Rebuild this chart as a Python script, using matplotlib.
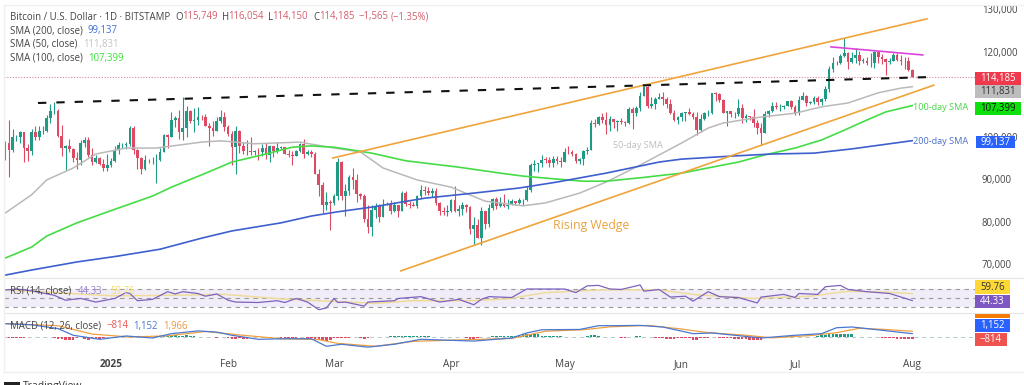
import numpy as np
import matplotlib
matplotlib.use('Agg')
import matplotlib.pyplot as plt
from matplotlib.patches import Rectangle

plt.rcParams['font.family'] = ['Open Sans', 'DejaVu Sans']

W, H = 1024, 385

# daily candles, 4 Dec 2024 to 1 Aug 2025, thousands of USD
closes = [
    98.7, 97.0, 99.9, 99.9, 101.1, 97.4, 96.6, 101.1, 100.0, 101.4, 101.4, 104.5, 106.1, 106.1, 100.2, 97.5, 97.8, 97.2, 95.1, 94.7, 98.7, 99.4, 95.8, 94.2, 95.1, 93.7, 92.8, 93.4,
    94.4, 96.9, 98.1, 98.2, 98.3, 102.1, 96.9, 95.0, 92.5, 94.7, 94.5, 94.5, 94.5, 96.5, 100.5, 99.9, 104.1, 104.4, 101.2, 102.0, 106.1, 103.7, 103.9, 104.8, 104.7, 102.6, 102.0, 101.3, 103.7, 104.7, 102.4,
    100.6, 97.7, 101.4, 97.8, 96.6, 96.6, 96.5, 96.5, 96.4, 97.4, 95.7, 97.8, 96.6, 97.5, 97.6, 96.1, 95.8, 95.6, 96.6, 98.3, 96.1, 96.5, 96.1, 91.4, 88.7, 84.0, 84.7, 84.4,
    86.0, 94.2, 86.1, 87.2, 90.6, 89.9, 86.7, 86.2, 80.6, 78.8, 82.9, 83.7, 81.1, 83.9, 84.3, 82.6, 84.0, 82.7, 86.8, 84.2, 84.0, 83.8, 86.1, 87.5, 87.4, 86.9, 87.2, 84.4, 82.6, 82.4, 82.5,
    85.2, 82.5, 83.1, 83.9, 83.5, 78.4, 79.2, 76.3, 82.6, 79.6, 83.4, 85.3, 83.7, 84.5, 83.7, 84.0, 84.9, 84.5, 85.1, 85.1, 87.5, 93.4, 93.7, 93.9, 94.7, 94.6, 93.8, 94.9, 94.3, 94.2,
    96.5, 96.4, 95.9, 94.3, 94.8, 96.8, 97.0, 103.3, 103.0, 104.8, 104.1, 102.8, 104.2, 103.5, 103.7, 103.5, 103.2, 106.5, 105.6, 106.8, 109.7, 111.7, 107.3, 107.8, 109.0, 109.4, 109.0, 107.8, 105.6, 103.9, 104.6,
    105.6, 105.8, 105.4, 104.7, 101.6, 104.3, 105.6, 105.7, 110.3, 110.2, 108.7, 105.7, 106.0, 105.4, 105.5, 106.8, 104.5, 104.9, 104.6, 103.3, 102.1, 100.9, 105.3, 106.0, 107.3, 107.0, 107.1, 107.3, 108.4, 107.1,
    105.7, 108.8, 109.6, 108.0, 108.2, 109.2, 108.2, 108.9, 111.3, 116.0, 117.5, 117.4, 119.1, 119.8, 117.7, 118.7, 119.3, 117.9, 117.9, 117.3, 117.4, 120.0, 118.8, 118.3, 117.6, 117.9, 119.4, 118.0, 117.9, 117.8, 115.749,
    114.185,
]
highs = [
    99.0, 104.0, 101.9, 100.5, 101.4, 101.2, 98.3, 101.9, 102.5, 102.6, 102.6, 105.1, 107.8, 108.3, 106.5, 102.8, 98.1, 99.5, 97.4, 96.4, 99.4, 99.9, 99.9, 97.4, 95.7, 95.4, 94.9, 96.1,
    95.0, 97.8, 98.9, 98.7, 98.8, 102.5, 102.7, 97.2, 95.3, 95.8, 94.9, 95.3, 95.9, 97.3, 100.7, 100.8, 105.9, 105.0, 106.3, 109.3, 107.2, 106.3, 106.8, 107.0, 105.2, 105.4, 103.2, 103.7, 104.8, 106.4, 106.0,
    102.8, 101.4, 102.5, 101.7, 98.8, 99.2, 100.1, 96.9, 97.3, 98.3, 98.5, 98.1, 98.0, 98.8, 97.9, 97.7, 97.0, 96.7, 97.0, 98.7, 99.5, 96.9, 96.9, 96.5, 92.5, 89.3, 87.0, 85.1,
    86.6, 95.0, 94.4, 88.9, 91.0, 92.8, 91.3, 86.9, 86.5, 84.0, 84.0, 84.4, 84.3, 85.3, 84.6, 85.1, 84.7, 84.0, 87.2, 87.4, 85.0, 84.6, 86.3, 88.6, 88.5, 88.3, 88.0, 87.9, 84.6, 83.5, 83.9,
    85.5, 88.5, 83.9, 84.7, 84.2, 83.8, 81.2, 80.8, 83.5, 82.7, 84.2, 85.7, 86.0, 85.8, 86.5, 85.5, 85.4, 85.0, 85.7, 85.3, 88.5, 93.8, 94.7, 94.0, 95.8, 95.3, 95.3, 95.6, 95.5, 95.2,
    97.4, 97.9, 96.9, 96.2, 95.0, 97.0, 97.7, 104.0, 104.2, 104.9, 105.7, 105.8, 104.9, 104.3, 104.1, 104.5, 103.7, 107.0, 107.0, 107.3, 110.7, 112.0, 111.9, 109.5, 109.3, 110.4, 110.7, 109.3, 108.9, 106.3, 105.0,
    105.9, 106.0, 106.8, 106.0, 105.9, 105.5, 106.0, 106.4, 110.4, 110.5, 110.4, 108.9, 106.2, 106.2, 106.0, 108.9, 107.7, 105.5, 105.0, 106.5, 104.0, 103.3, 106.1, 106.3, 108.2, 108.3, 107.7, 107.5, 108.5, 108.8,
    107.5, 109.7, 110.5, 109.8, 108.4, 109.7, 109.7, 109.2, 111.9, 116.7, 118.9, 118.0, 119.5, 123.2, 119.9, 120.0, 120.9, 120.3, 118.5, 118.9, 119.7, 120.2, 120.2, 119.5, 118.5, 118.5, 119.8, 119.8, 119.3, 118.8, 118.9,
    116.054,
]
lows = [
    94.7, 90.5, 96.5, 99.0, 98.7, 94.2, 94.3, 95.7, 99.3, 99.2, 100.6, 101.2, 103.3, 105.3, 100.0, 95.6, 92.2, 96.4, 94.2, 92.5, 93.5, 97.6, 95.2, 93.5, 94.0, 93.4, 91.9, 92.0,
    92.9, 94.2, 96.0, 97.5, 97.2, 97.9, 96.1, 92.5, 91.2, 92.2, 93.8, 93.7, 89.2, 94.3, 96.5, 97.3, 99.9, 102.3, 99.5, 99.4, 100.1, 103.2, 101.2, 102.8, 104.1, 102.5, 97.8, 100.3, 101.3, 103.3, 101.5,
    100.3, 93.3, 91.2, 96.2, 96.1, 95.7, 95.7, 95.7, 94.7, 95.6, 94.9, 94.1, 95.3, 96.3, 97.2, 96.0, 95.2, 93.4, 95.6, 96.4, 95.0, 95.8, 95.2, 91.2, 86.1, 82.2, 82.8, 78.2,
    84.0, 85.1, 85.2, 81.4, 86.3, 87.8, 84.7, 85.3, 80.0, 77.4, 76.7, 81.0, 80.0, 81.1, 83.9, 81.9, 82.4, 81.2, 82.6, 83.7, 83.2, 83.7, 83.3, 85.6, 86.4, 86.3, 85.9, 83.9, 81.6, 81.6, 81.3,
    82.4, 82.3, 81.5, 81.6, 82.4, 77.2, 74.5, 76.2, 74.7, 78.4, 78.9, 82.8, 83.1, 83.6, 83.6, 83.0, 83.9, 84.0, 84.3, 83.9, 85.0, 87.1, 91.9, 91.7, 92.9, 93.9, 92.9, 92.9, 93.6, 92.9,
    94.1, 96.0, 95.6, 94.0, 93.6, 93.5, 95.9, 97.0, 102.3, 102.8, 103.3, 100.7, 101.5, 102.1, 101.4, 103.1, 102.6, 103.1, 102.0, 105.0, 106.1, 109.7, 106.8, 106.8, 106.7, 108.9, 107.6, 106.8, 105.3, 103.7, 103.0,
    103.8, 103.7, 105.1, 104.2, 100.4, 101.1, 103.9, 105.0, 105.4, 108.4, 108.2, 105.7, 102.7, 104.6, 104.5, 104.9, 103.3, 103.5, 103.9, 102.4, 100.8, 98.2, 100.9, 104.7, 105.9, 106.7, 106.1, 106.7, 107.2, 106.5,
    105.2, 105.1, 108.6, 107.2, 107.8, 107.8, 107.5, 107.5, 108.4, 110.6, 115.2, 116.9, 117.2, 118.9, 116.0, 117.4, 117.4, 117.0, 117.4, 116.9, 116.4, 116.2, 117.3, 117.1, 114.7, 117.2, 117.8, 117.8, 116.9, 115.9, 115.6,
    114.15,
]
first_open = 95.9

# moving averages: days since 1 Jan 2025, thousands of USD
sma50_days = [-28, -21, -17, -10, -4, 4, 12, 24, 29, 38, 50, 59, 66, 72, 81, 90, 99, 109, 115, 124, 131, 140, 151, 158, 162, 172, 181, 188, 195, 203, 209, 212]
sma50_vals = [82.1, 86.4, 89.9, 92.7, 96.0, 97.4, 97.4, 98.8, 99.1, 98.4, 98.8, 97.4, 96.5, 92.7, 89.9, 88.2, 84.9, 83.8, 84.5, 86.8, 89.4, 93.4, 98.6, 102.1, 103.3, 104.7, 105.6, 107.1, 108.0, 110.4, 111.5, 111.831]
sma100_days = [-28, -21, -17, -9, 2, 11, 16, 24, 32, 41, 48, 53, 59, 62, 69, 78, 92, 103, 109, 118, 125, 131, 140, 151, 159, 166, 173, 181, 188, 194, 200, 205, 212]
sma100_vals = [71.5, 74.1, 76.7, 79.8, 83.3, 86.1, 88.2, 91.1, 94.1, 96.0, 97.6, 97.9, 97.6, 97.2, 96.2, 94.4, 92.9, 91.5, 90.8, 90.1, 89.6, 89.6, 90.4, 91.5, 92.9, 94.1, 95.8, 97.4, 99.3, 101.6, 104.0, 105.9, 107.399]
sma200_days = [-28, -21, -9, 2, 13, 24, 32, 45, 53, 60, 69, 83, 96, 108, 118, 131, 145, 151, 164, 175, 186, 196, 212]
sma200_vals = [67.5, 68.7, 70.6, 72.0, 73.6, 76.2, 77.9, 79.8, 81.4, 82.4, 83.5, 85.6, 86.8, 88.0, 89.4, 91.5, 94.1, 94.8, 95.5, 96.0, 96.2, 97.2, 99.137]

# drawn trend lines
neck_days, neck_vals = [-19.3, 216.4], [108.0, 114.1]
wedge_up_days, wedge_up_vals = [58.7, 215.9], [95.06, 127.8]
wedge_low_days, wedge_low_vals = [76.7, 217.7], [68.5, 112.2]
top_days, top_vals = [190.5, 214.8], [121.2, 119.3]

last_price = 114.185

# RSI pane
rsi_days = [-28, -25, -21, -15, -12, -8, -4, 1, 4, 5, 7, 11, 15, 17, 19, 23, 25, 28, 31, 33, 39, 44, 46, 49, 52, 55, 57, 59, 60, 62, 67, 68, 75, 76, 82, 87, 92, 96, 98, 100, 106,
            110, 115, 120, 123, 126, 129, 132, 135, 140, 141, 145, 148, 152, 154, 158, 161, 166, 171, 172, 178, 181, 182, 187, 189, 193, 195, 200, 206, 212]
rsi_vals = [67.7, 70, 66, 56, 45, 49, 41, 49, 62, 60, 44, 47, 64, 59, 64, 60, 54, 59, 45, 41, 40, 44, 40, 49, 41, 24, 28, 49, 40, 41, 32, 41, 44, 49, 53, 41, 47, 35, 47, 53, 51,
            70, 70, 70, 62, 77, 78, 70, 69, 79, 65, 69, 52, 54, 43, 64, 53, 51, 39, 52, 58, 51, 60, 58, 75, 78, 69, 64, 60, 44.33]
rsi_ma_days = [-28, -15, 0, 5, 15, 30, 45, 60, 70, 80, 95, 105, 115, 130, 145, 155, 170, 185, 195, 205, 212]
rsi_ma_vals = [68, 62, 55, 55, 56, 58, 48, 42, 38, 44, 44, 48, 62, 68, 68, 57, 49, 54, 65, 63, 59.76]

# MACD pane, thousands
macd_days = [-28, -21, -14, -10, -3, 4, 11, 16, 23, 28, 32, 39, 46, 53, 57, 61, 68, 75, 82, 96, 106, 110, 114, 124, 129, 133, 140, 146, 154, 159, 168, 172, 181, 188, 192, 196, 200, 212]
macd_vals = [4.6, 4.2, 2.9, 0.6, -0.8, 0.35, -0.35, 1.15, 2.1, 1.7, 0.6, -0.8, -0.6, -0.6, -3.2, -2.5, -3.5, -2.5, -0.8, -1.4, -0.35, 1.4, 2.5, 2.6, 3.9, 3.9, 4.0, 3.45, 1.15, 1.4, 0.2, -0.35, 0.6, 1.15, 3.2, 3.45, 2.9, 1.152]
signal_days = [-28, -14, -5, 5, 15, 25, 35, 45, 55, 60, 70, 80, 95, 106, 115, 125, 132, 142, 150, 158, 168, 175, 185, 192, 198, 205, 212]
signal_vals = [4.6, 3.9, 1.0, 0, 0.4, 1.9, 0.6, -0.6, -0.9, -2.2, -3.2, -1.5, -0.9, -0.5, 2, 2.5, 3.5, 4, 2.9, 1.5, 0.6, -0.3, 0.5, 1.5, 3.0, 2.6, 1.966]
hist_vals = [
    0, -.3, -.3, -.5, -.4, -.2, 0, 0, -.1, 0, 0, -.1, -.1, -.2, -.7, -.8, -.9, -.9, -.9, -.3,
    -.1, -.8, -.9, -.2, -.8, -.8, -.2, -.1, 0, .1, .1, .1, 0, -.1, -.1, -.1, -.1, -.1, 0, .1, .2, .2, .3, .4,
    .6, .7, .5, .4, .6, .2, .2, .1, .1, .1, -.1, -.1, -.2, -.1, -.1, -.5, -.6, -.7, -.3, -.7, -.7,
    -.1, -.1, -.1, -.1, 0, 0, 0, -.1, -.2, -.5, -.5, -.4, -.3, -.1, -.1, -.2, -.3, -.9, -1.1, -1.2, -1.3, -.9,
    -.2, -.4, -.3, -.2, -.2, -.1, -.1, -.5, -.6, -.2, -.1, 0, 0, .1, .1, .2, .4, .4, .5, .3, .5, .5, .4, .3,
    .2, .2, .1, .1, .1, .1, .1, .1, 0, 0, -.1, -.5, -.7, -.6, -.2, .1, .1, .1, .4, .5, .4, .4, .3, .4,
    .5, .7, .9, 1.1, 1.0, 1.0, .9, .5, .4, .3, .3, .2, .2, .1, .1, .1, .1, .1, .1, .4, .6, .6, .3,
    .1, .1, .1, 0, -.1, -.3, -.4, .1, .1, .3, .5, .1, -.1, -.1, -.3, -.4, -.5, -.6, -.7, -.8, -.2, -.2, -.2, -.3,
    -.9, -1.0, -.5, -.2, -.2, -.1, -.1, -.2, -.2, -.4, -.5, -.6, -.7, -.7, -.8, -.9, -.9, -1, -.9,
    -.1, -.1, .1, .1, .1, .1, .2, .2, .1, .1, .1, .1, .1, .1, .5, .6, .8, .9, .9, 1, 1, 1, 1.1, .9,
    .1, .1, .1, .1, .1, -.1, -.1, -.3, -.4, -.5, -.5, -.6, -.7, -.7, -.8, -.814,
]

price_ticks = [70, 80, 90, 100, 120, 130]
month_days = [0, 31, 59, 90, 120, 151, 181, 212]
month_labels = ['2025', 'Feb', 'Mar', 'Apr', 'May', 'Jun', 'Jul', 'Aug']

UP, DOWN = '#1f9a85', '#dc4a63'
GRID = '#9a9a9a'
X_LIMITS = (-28.3, 228.6)


def pane(top, bottom):
    """Axes given by pixel rows, sharing the same left and right edges"""
    ax = fig.add_axes([4 / W, 1 - bottom / H, (975 - 4) / W, (bottom - top) / H])
    ax.set_xlim(*X_LIMITS)
    for spine in ax.spines.values():
        spine.set_visible(False)
    ax.set_yticks([])
    ax.set_xticks([])
    return ax


def px_text(x, y, s, color='#444444', size=6.9, **kw):
    kw.setdefault('va', 'center')
    kw.setdefault('ha', 'left')
    fig.text(x / W, 1 - y / H, s, color=color, fontsize=size, **kw)


def tag(x0, y0, x1, y1, color, s=None, text_color='white'):
    fig.add_artist(Rectangle((x0 / W, 1 - y1 / H), (x1 - x0) / W, (y1 - y0) / H,
                             transform=fig.transFigure, facecolor=color, edgecolor='none'))
    if s:
        fig.text((x0 + x1) / 2 / W, 1 - (y0 + y1) / 2 / H, s, color=text_color, fontsize=6.9,
                 ha='center', va='center', zorder=3)


fig = plt.figure(figsize=(W / 100, H / 100), dpi=100, facecolor='white')

# main price pane
ax = pane(6, 278)
ax.set_ylim(120 - (278 - 52) / 4.25, 120 - (6 - 52) / 4.25)
ax.yaxis.tick_right()
ax.set_yticks(price_ticks)
ax.set_yticklabels([f'{p},000' for p in price_ticks], color='#444444', fontsize=6.9)
ax.tick_params(axis='y', length=0, pad=5)

days = np.arange(-28, -28 + len(closes))
opens = [first_open] + closes[:-1]
for d, o, h, l, c in zip(days, opens, highs, lows, closes):
    col = UP if c >= o else DOWN
    ax.plot([d, d], [l, h], color=col, lw=0.8, solid_capstyle='butt', zorder=3)
    ax.bar(d, max(abs(c - o), 0.12), bottom=min(o, c), width=0.72, color=col, zorder=3)

ax.plot(sma50_days, sma50_vals, color='#b9b9b9', lw=1.1, zorder=4)
ax.plot(sma100_days, sma100_vals, color='#45dc45', lw=1.2, zorder=4)
ax.plot(sma200_days, sma200_vals, color='#3f5fcf', lw=1.2, zorder=4)
ax.plot(wedge_up_days, wedge_up_vals, color='#efa43a', lw=1.2, zorder=5)
ax.plot(wedge_low_days, wedge_low_vals, color='#efa43a', lw=1.2, zorder=5)
ax.plot(top_days, top_vals, color='#dd44dd', lw=1.2, zorder=5)
ax.plot(neck_days, neck_vals, color='#111111', lw=1.5, ls=(0, (4, 4.8)), zorder=5)
ax.axhline(last_price, color='#d98a95', lw=0.8, ls=(0, (1, 1.5)), zorder=2)

# RSI pane
rsi = pane(278, 313)
rsi.set_ylim(30 - 6 / 0.45, 70 + 11 / 0.45)
rsi.axhspan(30, 70, color='#7e57c2', alpha=0.10, lw=0)
for lev in [30, 50, 70]:
    rsi.axhline(lev, color=GRID, lw=0.8, ls=(0, (4, 4)))
rsi.plot(rsi_ma_days, rsi_ma_vals, color='#efdc9a', lw=1.1)
rsi.plot(rsi_days, rsi_vals, color='#7d62c0', lw=0.9)

# MACD pane, 2.9 px per 1000 around the zero line at row 337
macd = pane(313, 352)
macd.set_ylim(-(352 - 337) / 2.9, (337 - 313) / 2.9)
macd.axhline(0, color='#b5c9c5', lw=0.7, ls=(0, (4, 4)))
hist_days = np.arange(-28, -28 + len(hist_vals))
macd.bar(hist_days, hist_vals, width=0.7, color=[UP if v >= 0 else DOWN for v in hist_vals], zorder=2)
macd.plot(signal_days, signal_vals, color='#f0a040', lw=0.9, zorder=3)
macd.plot(macd_days, macd_vals, color='#4a78d0', lw=0.9, zorder=4)
macd.set_xticks(month_days)
macd.set_xticklabels(month_labels, color='#444444', fontsize=7.2)
macd.get_xticklabels()[0].set_fontweight('bold')
macd.tick_params(axis='x', length=0, pad=5)

# frame and pane separators
for y in [278, 313]:
    fig.add_artist(plt.Line2D([4 / W, 1], [1 - y / H] * 2, color='#e6e6e6', lw=0.8))
fig.add_artist(plt.Line2D([4 / W, 1], [1 - 5 / H] * 2, color='#f0f0f0', lw=1))
fig.add_artist(plt.Line2D([4 / W, 1], [1 - 372 / H] * 2, color='#f0f0f0', lw=1))
fig.add_artist(plt.Line2D([4 / W, 4 / W], [1 - 5 / H, 1 - 372 / H], color='#f0f0f0', lw=1))

# header legend
RED = '#d4606f'
px_text(10, 17, 'Bitcoin / U.S. Dollar · 1D · BITSTAMP')
for x, s in [(175, 'O'), (222, 'H'), (268, 'L'), (313, 'C')]:
    px_text(x, 17, s)
for x, s in [(182, '115,749'), (228, '116,054'), (272, '114,150'), (319, '114,185'),
             (359, '−1,565'), (391, '(−1.35%)')]:
    px_text(x, 17, s, color=RED)
px_text(10, 31, 'SMA (200, close)')
px_text(88, 31, '99,137', color='#3f6fd8')
px_text(10, 44.5, 'SMA (50, close)')
px_text(83, 44.5, '111,831', color='#c4c4c4')
px_text(10, 58, 'SMA (100, close)')
px_text(88, 58, '107,399', color='#35e035')

# pane legends
px_text(10, 291, 'RSI (14, close)')
px_text(78, 291, '44.33', color='#9a85d0')
px_text(110, 291, '59.76', color='#f0dc70')
px_text(10, 326, 'MACD (12, 26, close)')
px_text(107, 326, '−814', color='#ef5350')
px_text(133, 326, '1,152', color='#4a78d0')
px_text(163, 326, '1,966', color='#f0963c')

# chart notes
px_text(613, 146, '50-day SMA', color='#bdbdbd', size=6.6)
px_text(553, 226, 'Rising Wedge', color='#eba23f', size=8.8)
px_text(913, 107, '100-day SMA', color='#45d545', size=6.6)
px_text(913, 142, '200-day SMA', color='#4a6fc8', size=6.6)

# price tags on the right
tag(975, 72, 1021, 84.5, '#f0394d', '114,185')
tag(975, 85, 1021, 98, '#bdbdbd', '111,831', '#333333')
tag(975, 102, 1021, 114.5, '#0de00d', '107,399', '#111111')
tag(976, 136, 1015, 148, '#2962ff', '99,137')
tag(975, 280, 1010, 294, '#fdd835', '59.76', '#333333')
tag(975, 294.5, 1010, 308, '#7e57c2', '44.33')
tag(975, 313, 1010, 318, '#f57c00')
tag(975, 319, 1010, 332, '#2962ff', '1,152')
tag(975, 333, 1007, 346, '#ef5350', '−814')

# watermark, cut off by the bottom edge
fig.add_artist(Rectangle((4 / W, 0), 16 / W, 3 / H, transform=fig.transFigure,
                         facecolor='#222222', edgecolor='none'))
px_text(23, 381, 'TradingView', color='#333333', size=7.5, va='top')

fig.savefig('out.png', dpi=100)
